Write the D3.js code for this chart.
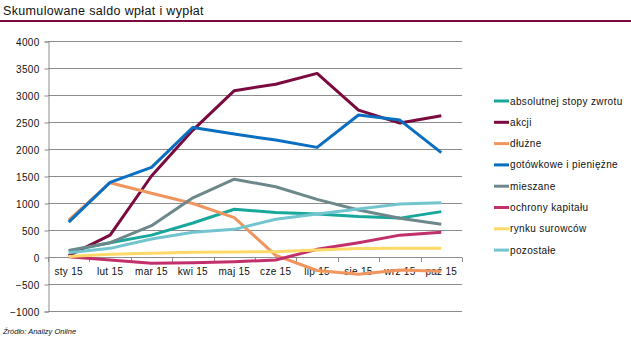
<!DOCTYPE html>
<html><head><meta charset="utf-8">
<script src="https://cdn.jsdelivr.net/npm/d3@7/dist/d3.min.js"></script>
<style>body{margin:0;background:#fff}svg{display:block}text{font-family:"Liberation Sans",Arial,sans-serif}</style>
</head><body>
<script>
const categories = ["sty 15","lut 15","mar 15","kwi 15","maj 15","cze 15","lip 15","sie 15","wrz 15","paź 15"];
const seriesNames = ["absolutnej stopy zwrotu","akcji","dłużne","gotówkowe i pieniężne","mieszane","ochrony kapitału","rynku surowców","pozostałe"];
const absolutnej = [110, 265, 405, 630, 885, 825, 798, 748, 720, 840];
const akcji = [25, 405, 1500, 2350, 3080, 3200, 3400, 2720, 2480, 2615];
const dluzne = [685, 1376, 1180, 990, 728, 30, -250, -320, -240, -265];
const gotowkowe = [645, 1383, 1660, 2400, 2278, 2165, 2030, 2630, 2535, 1932];
const mieszane = [120, 265, 580, 1095, 1440, 1300, 1068, 870, 716, 605];
const ochrony = [5, -56, -117, -105, -87, -56, 142, 265, 405, 457];
const rynku = [8, 49, 68, 87, 93, 99, 128, 158, 160, 160];
const pozostale = [80, 160, 333, 457, 512, 700, 796, 889, 981, 1006];
const yTicks = [-1000,-500,0,500,1000,1500,2000,2500,3000,3500,4000];
const colors = ["#17a89b","#7b0a3f","#f0955e","#0a6fc0","#6d888b","#c2306b","#ffd966","#72c5cf"];
const values = [absolutnej, akcji, dluzne, gotowkowe, mieszane, ochrony, rynku, pozostale];

const W = 631, H = 342;
const svg = d3.select("body").append("svg").attr("width", W).attr("height", H);

// title
svg.append("text").attr("x", 3).attr("y", 15).attr("font-size", 12.5).attr("letter-spacing", 0.35).attr("fill", "#111")
  .text("Skumulowane saldo wpłat i wypłat");
svg.append("rect").attr("x", 0).attr("y", 20).attr("width", W).attr("height", 2).attr("fill", "#7b0a3f");

const pLeft = 48, pRight = 462, pTop = 41, pBottom = 311;
const x = d3.scaleBand().domain(categories).range([pLeft, pRight]);
const y = d3.scaleLinear().domain([-1000, 4000]).range([pBottom, pTop]);

// gridlines
svg.append("g").selectAll("line").data(yTicks).join("line")
  .attr("x1", pLeft).attr("x2", pRight)
  .attr("y1", d => Math.round(y(d)) + 0.5).attr("y2", d => Math.round(y(d)) + 0.5)
  .attr("stroke", "#8c8c8c").attr("stroke-width", 1);

// y axis
const yAxis = d3.axisLeft(y).tickValues(yTicks).tickSize(4).tickFormat(d3.format("d"));
const gy = svg.append("g").attr("transform", `translate(${pLeft + 0.5},0.5)`).call(yAxis);
gy.select(".domain").attr("stroke", "#8c8c8c");
gy.selectAll(".tick line").attr("stroke", "#8c8c8c");
gy.selectAll(".tick text").attr("font-size", 10).attr("fill", "#111").attr("x", -9).attr("dy", "0.35em")
  .attr("letter-spacing", 0.3).attr("font-family", "Liberation Sans, Arial, sans-serif");

// x axis at zero
const xAxis = d3.axisBottom(x).tickSize(0);
const gx = svg.append("g").attr("transform", `translate(0,${Math.round(y(0)) + 0.5})`).call(xAxis);
gx.select(".domain").remove();
gx.selectAll(".tick text").attr("font-size", 10).attr("fill", "#111").attr("y", 10).attr("dy", "0.71em")
  .attr("letter-spacing", 0.3).attr("font-family", "Liberation Sans, Arial, sans-serif");
// category separators
const seps = categories.map((c, i) => x(c) + x.bandwidth()).concat([pLeft]);
svg.append("line").attr("x1", pLeft).attr("x2", pRight).attr("y1", Math.round(y(0)) + 0.5).attr("y2", Math.round(y(0)) + 0.5).attr("stroke", "#8c8c8c");
svg.append("g").selectAll("line").data(seps).join("line")
  .attr("x1", d => Math.round(d) + 0.5).attr("x2", d => Math.round(d) + 0.5)
  .attr("y1", Math.round(y(0)) + 0.5).attr("y2", Math.round(y(0)) + 5)
  .attr("stroke", "#8c8c8c");

// lines
const line = d3.line().x((d, i) => x(categories[i]) + x.bandwidth() / 2).y(d => y(d));
svg.append("g").selectAll("path").data(values).join("path")
  .attr("d", d => line(d)).attr("fill", "none")
  .attr("stroke", (d, i) => colors[i]).attr("stroke-width", 3)
  .attr("stroke-linejoin", "round");

// legend
const lg = svg.append("g").selectAll("g").data(seriesNames).join("g")
  .attr("transform", (d, i) => `translate(494,${101 + i * 21.3})`);
lg.append("line").attr("x1", 0).attr("x2", 15).attr("y1", 0).attr("y2", 0)
  .attr("stroke", (d, i) => colors[i]).attr("stroke-width", 3);
lg.append("text").attr("x", 16).attr("y", 0).attr("dy", "0.35em").attr("font-size", 10).attr("letter-spacing", 0.35).attr("fill", "#111")
  .text(d => d);

// source
svg.append("text").attr("x", 3).attr("y", 334).attr("font-size", 7.5).attr("font-style", "italic").attr("fill", "#111")
  .text("Źródło: Analizy Online");
</script>
</body></html>
